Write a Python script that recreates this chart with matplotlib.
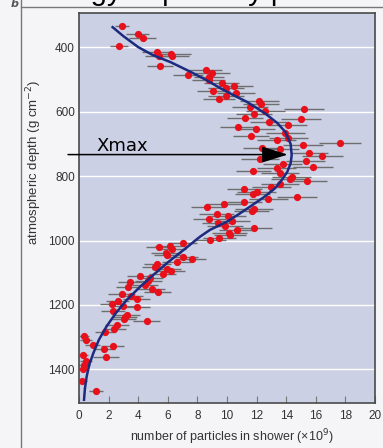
import matplotlib
matplotlib.use("Agg")
from matplotlib import pyplot
from matplotlib.lines import Line2D

# measured shower profile: depth (g cm^-2), particle count (x10^9), spread
depth = [332, 357, 371, 396, 415, 428, 421, 428, 458, 487,
         469, 478, 493, 500, 511, 519, 525, 534, 542, 552,
         560, 567, 575, 584, 590, 599, 608, 618, 623, 632,
         642, 648, 655, 666, 674, 680, 689, 697, 704, 712,
         717, 728, 737, 746, 752, 761, 771, 776, 784, 790,
         802, 810, 816, 825, 835, 840, 849, 857, 864, 870,
         880, 888, 895, 903, 909, 919, 923, 933, 940, 945,
         954, 962, 967, 976, 983, 991, 998, 1007, 1016, 1021,
         1027, 1040, 1045, 1050, 1058, 1068, 1074, 1081, 1089, 1095,
         1104, 1109, 1117, 1126, 1130, 1138, 1145, 1151, 1160, 1167,
         1174, 1182, 1187, 1197, 1203, 1208, 1218, 1231, 1238, 1244,
         1250, 1262, 1274, 1285, 1296, 1309, 1324, 1329, 1336, 1355,
         1362, 1374, 1386, 1399, 1436, 1469]
particles = [2.9, 3.96, 4.3, 2.72, 5.29, 5.43, 6.24, 6.3, 5.47, 7.37,
             8.55, 8.97, 8.8, 8.75, 9.64, 10.47, 9.93, 9.07, 10.6, 9.93,
             9.45, 12.18, 12.3, 11.55, 15.2, 12.59, 11.82, 11.22, 14.98, 12.86,
             14.1, 10.72, 11.96, 13.94, 11.62, 14.14, 13.36, 17.64, 15.11, 12.36,
             13.55, 15.57, 16.44, 12.23, 15.31, 13.76, 15.78, 13.36, 11.78, 13.58,
             14.37, 14.26, 15.38, 13.58, 13.0, 11.17, 12.0, 11.73, 14.7, 12.8,
             11.17, 9.8, 8.67, 11.82, 11.67, 9.3, 10.09, 8.8, 10.34, 9.41,
             9.86, 11.85, 10.65, 10.16, 10.2, 9.48, 8.85, 7.0, 6.15, 5.38,
             6.26, 5.88, 5.97, 7.05, 7.61, 6.6, 5.29, 5.16, 5.92, 6.19,
             5.65, 4.12, 4.8, 4.68, 3.45, 4.46, 3.33, 4.91, 5.31, 2.88,
             3.51, 3.89, 2.61, 2.2, 2.95, 3.89, 2.32, 3.22, 3.11, 3.06,
             4.57, 2.59, 2.39, 1.76, 0.34, 0.47, 0.92, 2.27, 1.71, 0.29,
             1.82, 0.47, 0.36, 0.25, 0.22, 1.15]
spread = [0.5, 0.8, 0.9, 0.6, 1.0, 1.0, 1.3, 1.1, 0.9, 1.0,
          1.1, 1.2, 1.0, 1.1, 1.2, 1.3, 1.2, 1.1, 1.3, 1.2,
          1.1, 1.3, 1.2, 1.2, 1.35, 1.3, 1.2, 1.2, 1.35, 1.3,
          1.3, 1.2, 1.3, 1.3, 1.2, 1.3, 1.3, 1.4, 1.35, 1.3,
          1.3, 1.25, 1.4, 1.3, 1.3, 1.3, 1.35, 1.3, 1.2, 1.3,
          1.3, 1.3, 1.35, 1.3, 1.3, 1.2, 1.3, 1.2, 1.35, 1.3,
          1.2, 1.2, 1.1, 1.3, 1.2, 1.2, 1.2, 1.1, 1.2, 1.1,
          1.2, 1.2, 1.2, 1.2, 1.1, 1.1, 1.1, 1.0, 1.0, 0.85,
          1.0, 1.0, 0.9, 1.0, 1.0, 1.0, 0.9, 0.9, 1.0, 1.0,
          0.9, 0.9, 0.9, 0.9, 0.8, 0.9, 0.8, 0.9, 0.9, 0.9,
          0.8, 0.9, 0.8, 0.8, 0.8, 0.9, 0.8, 0.9, 0.8, 0.8,
          0.93, 0.8, 0.8, 0.7, 0.34, 0.4, 0.5, 0.8, 0.7, 0.35,
          0.9, 0.4, 0.4, 0.35, 0.35, 0.5]

# fitted longitudinal profile
fit_depth = [337, 365, 399, 424, 446, 475, 500, 528, 550, 568,
             588, 606, 635, 663, 700, 735, 760, 787, 812, 838,
             865, 895, 918, 942, 967, 988, 1030, 1068, 1107, 1145,
             1185, 1225, 1267, 1308, 1350, 1385, 1422, 1460, 1495]
fit_particles = [2.27, 3.0, 4.0, 5.0, 6.2, 7.5, 8.55, 9.6, 10.5, 11.3,
                 12.0, 12.6, 13.4, 13.95, 14.3, 14.37, 14.3, 14.07, 13.7, 13.24,
                 12.5, 11.55, 10.8, 9.98, 8.85, 8.18, 7.05, 6.0, 5.02, 4.1,
                 3.22, 2.5, 1.86, 1.35, 0.97, 0.7, 0.52, 0.4, 0.34]

xmax_depth = 733
xmax_value = 14.1

x_ticks = [0, 2, 4, 6, 8, 10, 12, 14, 16, 18, 20]
y_ticks = [400, 600, 800, 1000, 1200, 1400]

W, H = 383, 448
fig = pyplot.figure(figsize=(W / 100, H / 100), dpi=100, facecolor='#f5f5f7')
ax = fig.add_axes([79 / W, 45 / H, 296 / W, 390 / H])
ax.set_facecolor('#ccd0e5')

ax.set_xlim(0, 20)
ax.set_ylim(1505, 293)
ax.set_xticks(x_ticks)
ax.set_yticks(y_ticks)
ax.yaxis.grid(True, color='white', lw=1.0)
ax.set_axisbelow(True)
ax.tick_params(axis='x', direction='in', length=5, color='#777777',
               labelsize=8.5, labelcolor='#333333', pad=5)
ax.tick_params(axis='y', length=0, labelsize=8.5, labelcolor='#333333', pad=3)
for lab in ax.get_xticklabels() + ax.get_yticklabels():
    lab.set_family('Liberation Sans')
for sp in ax.spines.values():
    sp.set_color('#4a4a4a')
    sp.set_linewidth(1.2)

ax.errorbar(particles, depth, xerr=spread, fmt='none', ecolor='#6e6e6e',
            elinewidth=1.0, capsize=0, zorder=2)
ax.plot(particles, depth, 'o', color='#e8101a', ms=5.2, mec='none', zorder=3)
ax.plot(fit_particles, fit_depth, color='#1c2a80', lw=1.8, zorder=4)

# Xmax marker
ax.annotate('', xy=(xmax_value, xmax_depth), xytext=(-0.74, xmax_depth),
            annotation_clip=False,
            arrowprops=dict(arrowstyle='-|>,head_length=0.8,head_width=0.25',
                            color='black', lw=1.1, mutation_scale=20,
                            shrinkA=0, shrinkB=0),
            zorder=5)
ax.text(1.2, 721, 'Xmax', fontsize=13, color='black', va='baseline', ha='left')

fig.text(34 / W, 1 - 162 / H, 'atmospheric depth (g cm$^{-2}$)', rotation=90,
         ha='center', va='center', fontsize=9.5, color='#333333',
         family='Liberation Sans')
fig.text(232 / W, 1 - 437 / H, 'number of particles in shower (\u00d710$^{9}$)',
         ha='center', va='center', fontsize=9, color='#333333',
         family='Liberation Sans')

# page furniture
fig.add_artist(Line2D([21 / W, 21 / W], [0, 1], transform=fig.transFigure,
                      color='#777777', lw=1.0))
fig.add_artist(Line2D([21 / W, 1], [1 - 7 / H, 1 - 7 / H], transform=fig.transFigure,
                      color='#777777', lw=1.0))
fig.text(15 / W, 1 - 4 / H, 'b', ha='center', va='center', fontsize=8,
         style='italic', weight='bold', color='#555555')
# heading sits above the page edge, only its descenders show
fig.text(29 / W, 1.0, 'Energy deposit by particles', fontsize=21,
         family='Liberation Sans', va='baseline', ha='left', color='black')

pyplot.savefig('out.png', dpi=100, facecolor=fig.get_facecolor())
